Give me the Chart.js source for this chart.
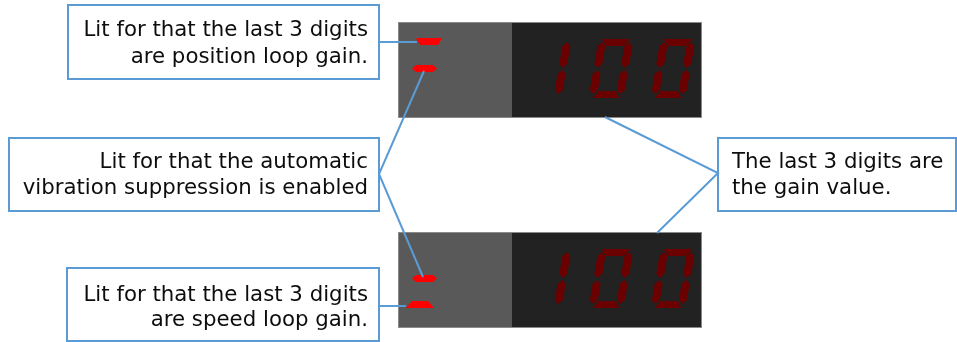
<!DOCTYPE html>
<html>
<head>
<meta charset="utf-8">
<script src="https://cdn.jsdelivr.net/npm/chart.js@4"></script>
<style>
  body { margin: 0; background: #fff; }
  canvas { display: block; }
</style>
</head>
<body>
<canvas id="panel" width="957" height="342"></canvas>
<script>
// Callout texts, one pair of lines per box
const calloutText = [
    ['Lit for that the last 3 digits', 'are position loop gain.'],
    ['Lit for that the automatic', 'vibration suppression is enabled'],
    ['Lit for that the last 3 digits', 'are speed loop gain.'],
    ['The last 3 digits are', 'the gain value.']
];
const calloutX = [[68, 379], [9, 379], [67, 379], [718, 956]];
const calloutY = [[5, 79], [138, 211], [268, 341], [138, 211]];
const calloutBaselines = [[36, 63], [168, 194], [301, 326], [168, 194]];
const calloutAlign = ['right', 'right', 'right', 'left'];

// Leader lines
const linkPosition = [[379, 42], [417, 42]];
const linkVibration = [[424, 71], [379, 174], [423, 277]];
const linkSpeed = [[379, 306], [406, 306]];
const linkGain = [[605, 117], [718, 173], [657, 233]];

// Two keypad displays
const displayTop = [22, 232];
const readouts = ['100', '100'];
// lit LEDs per display: position, vibration, speed
const ledLit = [[1, 1, 0], [0, 1, 1]];

const blue = '#5b9bd5';

function pts(arr) {
    return arr.map(p => ({ x: p[0], y: p[1] }));
}

const datasets = [];
[linkPosition, linkVibration, linkSpeed, linkGain].forEach(l => {
    datasets.push({ data: pts(l), showLine: true, borderColor: blue, borderWidth: 2, pointRadius: 0, fill: false });
});
calloutX.forEach((bx, i) => {
    const by = calloutY[i];
    datasets.push({
        data: pts([[bx[0], by[0]], [bx[1], by[0]], [bx[1], by[1]], [bx[0], by[1]], [bx[0], by[0]], [bx[1], by[0]]]),
        showLine: true, borderColor: blue, borderWidth: 2, pointRadius: 0, fill: false,
        borderJoinStyle: 'miter'
    });
});

// LED shapes, relative to display top
const ledShapes = [
    [[416, 16], [442, 16], [438, 23], [420, 23]],
    [[412, 46.5], [416, 43], [433, 43], [437, 46.5], [433, 50], [416, 50]],
    [[412, 69], [428, 69], [434, 76], [406, 76]]
];

// seven segment pieces (unskewed, digit cell coords)
const segs = {
    a: [[3, 0], [32, 0], [26, 7], [9, 7]],
    b: [[31, 3], [35, 7], [35, 25], [31, 29], [27, 25], [27, 7]],
    c: [[31, 31], [35, 35], [35, 51], [31, 55], [27, 51], [27, 35]],
    d: [[9, 52], [26, 52], [31, 59], [4, 59]],
    e: [[4, 31], [8, 35], [8, 51], [4, 55], [0, 51], [0, 35]],
    f: [[4, 3], [8, 7], [8, 25], [4, 29], [0, 25], [0, 7]]
};
const digitSegs = { '0': 'abcdef', '1': 'bc' };
const digitX = [526.5, 588.5, 650.5];

const displayPlugin = {
    id: 'display',
    beforeDatasetsDraw(chart) {
        const ctx = chart.ctx;
        const xs = chart.scales.x, ys = chart.scales.y;
        const poly = (points, color) => {
            ctx.beginPath();
            points.forEach((p, i) => {
                const px = xs.getPixelForValue(p[0]), py = ys.getPixelForValue(p[1]);
                if (i === 0) ctx.moveTo(px, py); else ctx.lineTo(px, py);
            });
            ctx.closePath();
            ctx.fillStyle = color;
            ctx.fill();
        };
        ctx.save();
        displayTop.forEach((top, d) => {
            poly([[398, top], [512, top], [512, top + 95], [398, top + 95]], '#595959');
            poly([[512, top], [701, top], [701, top + 95], [512, top + 95]], '#222222');
            ctx.strokeStyle = '#8a8a8a';
            ctx.lineWidth = 1;
            ctx.strokeRect(xs.getPixelForValue(398) + 0.5, ys.getPixelForValue(top) + 0.5, 303, 95);

            ledShapes.forEach((shape, k) => {
                if (ledLit[d][k]) poly(shape.map(p => [p[0], top + p[1]]), '#ff0000');
            });

            readouts[d].split('').forEach((ch, n) => {
                const x0 = digitX[n];
                digitSegs[ch].split('').forEach(s => {
                    poly(segs[s].map(p => [x0 + p[0] + (59 - p[1]) * 0.17, top + 17 + p[1]]), '#6b0000');
                });
            });
        });
        ctx.restore();
    }
};

const textPlugin = {
    id: 'calloutText',
    afterDatasetsDraw(chart) {
        const ctx = chart.ctx;
        const xs = chart.scales.x, ys = chart.scales.y;
        ctx.save();
        ctx.font = '21.3px "DejaVu Sans", Verdana, sans-serif';
        ctx.fillStyle = '#0d0d0d';
        ctx.textBaseline = 'alphabetic';
        calloutText.forEach((lines, i) => {
            const align = calloutAlign[i];
            ctx.textAlign = align;
            const x = align === 'right' ? calloutX[i][1] - 11 : calloutX[i][0] + 14;
            lines.forEach((t, j) => {
                ctx.fillText(t, xs.getPixelForValue(x), ys.getPixelForValue(calloutBaselines[i][j]));
            });
        });
        ctx.restore();
    }
};

new Chart(document.getElementById('panel'), {
    type: 'scatter',
    data: { datasets: datasets },
    options: {
        responsive: false,
        animation: false,
        events: [],
        layout: { padding: 0 },
        plugins: {
            legend: { display: false },
            tooltip: { enabled: false }
        },
        scales: {
            x: { type: 'linear', min: 0, max: 957, display: false },
            y: { type: 'linear', min: 0, max: 342, reverse: true, display: false }
        }
    },
    plugins: [displayPlugin, textPlugin]
});
</script>
</body>
</html>
